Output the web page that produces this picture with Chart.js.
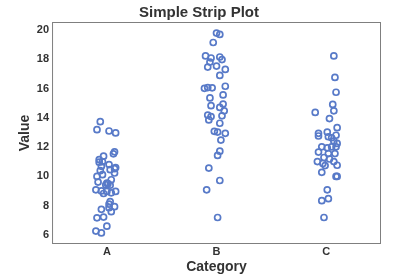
<!DOCTYPE html>
<html>
<head>
<meta charset="utf-8">
<script src="https://cdn.jsdelivr.net/npm/chart.js@4"></script>
<style>
  body { margin: 0; background: #fff; }
  #wrap { width: 400px; height: 280px; }
</style>
</head>
<body>
<div id="wrap"><canvas id="myChart"></canvas></div>
<script>
const categories = ["A", "B", "C"];
const yTicks = [6, 8, 10, 12, 14, 16, 18, 20];

// values, with the strip jitter for each point
const valuesA = [13.74, 13.19, 13.1, 12.97, 11.68, 11.54, 11.38, 11.15, 10.97, 10.81, 10.69, 10.53,
  10.46, 10.23, 10.39, 10.12, 10.0, 9.77, 9.61, 9.54, 9.43, 9.4, 9.08, 9.01, 8.97, 8.97, 8.88,
  8.83, 8.28, 8.1, 7.93, 7.86, 7.75, 7.59, 7.22, 7.17, 6.6, 6.26, 6.14, 9.5, 10.6, 11.0];
const jitterA = [-0.06, -0.09, 0.02, 0.08, 0.07, 0.06, -0.03, -0.07, -0.07, 0.02, -0.05, 0.07,
  0.03, 0.07, -0.06, -0.04, -0.09, 0.04, -0.08, 0.0, -0.01, 0.03, -0.1, -0.05, 0.0, 0.08, 0.04,
  -0.03, 0.03, 0.02, 0.07, 0.02, -0.05, 0.04, -0.03, -0.09, 0.0, -0.1, -0.05, 0.01, 0.08, -0.04];

const valuesB = [19.79, 19.7, 19.15, 18.23, 18.09, 18.16, 17.98, 17.81, 17.47, 17.54, 17.31, 16.9,
  16.16, 16.02, 16.07, 16.05, 15.57, 15.36, 14.83, 14.94, 14.71, 14.48, 14.19, 14.09, 14.14, 13.86,
  13.63, 13.08, 13.03, 12.94, 12.48, 11.72, 11.43, 10.57, 9.72, 9.08, 7.19];
const jitterB = [0.0, 0.03, -0.03, -0.1, -0.05, 0.03, 0.05, -0.06, -0.08, 0.0, 0.08, 0.03,
  0.08, -0.11, -0.08, -0.04, 0.06, -0.06, -0.05, 0.06, 0.03, 0.07, -0.08, -0.05, 0.05, -0.07,
  0.03, -0.02, 0.01, 0.08, 0.04, 0.03, 0.01, -0.07, 0.03, -0.09, 0.01];

const valuesC = [18.23, 16.76, 15.75, 14.92, 14.48, 14.37, 13.95, 13.33, 12.94, 12.76, 13.03, 12.71,
  12.64, 12.81, 12.41, 12.25, 12.02, 11.95, 12.02, 12.02, 11.66, 11.56, 11.56, 11.29, 11.19, 11.01,
  10.88, 11.01, 10.76, 10.74, 10.28, 10.0, 10.0, 9.08, 8.48, 8.34, 7.19];
const jitterC = [0.07, 0.08, 0.09, 0.06, 0.07, -0.1, 0.03, 0.1, -0.07, -0.07, 0.01, 0.02,
  0.05, 0.09, 0.07, 0.1, -0.04, 0.01, 0.05, 0.09, -0.07, 0.02, 0.08, -0.02, 0.03, -0.08,
  -0.03, 0.07, 0.1, -0.01, -0.04, 0.09, 0.1, 0.01, 0.02, -0.04, -0.02];

function strip(catIndex, values, jitter) {
  return values.map((v, i) => ({ x: catIndex + jitter[i], y: v }));
}

const blue = "rgb(88, 122, 200)";
const textColor = "#333333";

const frame = {
  id: "frame",
  afterDraw(chart) {
    const a = chart.chartArea;
    const ctx = chart.ctx;
    ctx.save();
    ctx.strokeStyle = "#7f7f7f";
    ctx.lineWidth = 1;
    ctx.strokeRect(a.left + 0.5, a.top + 0.5, a.right - a.left - 1, a.bottom - a.top - 1);
    ctx.restore();
  }
};

const graphData = {
  datasets: [
    { data: strip(0, valuesA, jitterA) },
    { data: strip(1, valuesB, jitterB) },
    { data: strip(2, valuesC, jitterC) }
  ]
};

const config = {
  type: "scatter",
  data: graphData,
  options: {
    responsive: true,
    maintainAspectRatio: false,
    animation: false,
    layout: { padding: { top: 4, right: 19, left: 17, bottom: 4 } },
    elements: {
      point: {
        radius: 3,
        borderWidth: 1.7,
        borderColor: blue,
        backgroundColor: "rgba(0,0,0,0)"
      }
    },
    plugins: {
      legend: { display: false },
      tooltip: { enabled: false },
      title: {
        display: true,
        text: "Simple Strip Plot",
        color: textColor,
        font: { family: "Liberation Sans", size: 15, weight: "bold" },
        padding: { top: 0, bottom: 0 }
      }
    },
    scales: {
      x: {
        type: "linear",
        min: -0.5,
        max: 2.5,
        afterBuildTicks: (axis) => { axis.ticks = categories.map((c, i) => ({ value: i })); },
        ticks: {
          callback: (v) => categories[v],
          color: textColor,
          font: { family: "Liberation Sans", size: 11, weight: "bold" },
          padding: 1,
          maxRotation: 0
        },
        grid: { display: false, drawTicks: false, tickLength: 0 },
        border: { display: false },
        title: {
          display: true,
          text: "Category",
          color: textColor,
          font: { family: "Liberation Sans", size: 14, weight: "bold" },
          padding: { top: 0, bottom: 0 }
        }
      },
      y: {
        min: 5.38,
        max: 20.55,
        afterBuildTicks: (axis) => { axis.ticks = yTicks.map((v) => ({ value: v })); },
        ticks: {
          color: textColor,
          font: { family: "Liberation Sans", size: 11, weight: "bold" },
          padding: 3
        },
        grid: { display: false, drawTicks: false, tickLength: 0 },
        border: { display: false },
        title: {
          display: true,
          text: "Value",
          color: textColor,
          font: { family: "Liberation Sans", size: 14, weight: "bold" },
          padding: { top: 0, bottom: 0 }
        }
      }
    }
  },
  plugins: [frame]
};

const myChart = new Chart(document.getElementById("myChart"), config);
</script>
</body>
</html>
